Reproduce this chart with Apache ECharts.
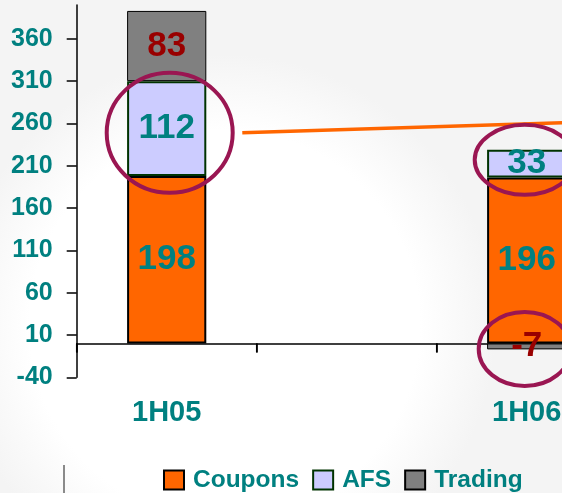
<!DOCTYPE html>
<html><head><meta charset="utf-8">
<script src="https://cdn.jsdelivr.net/npm/echarts@6/dist/echarts.min.js"></script>
<style>html,body{margin:0;padding:0;background:#f4f4f4;overflow:hidden}#c{width:562px;height:493px}</style>
</head><body><div id="c"></div>
<script>
// ---- data ----
const categories = ['1H05', '', '1H06'];
const seriesNames = ['Coupons', 'AFS', 'Trading'];
const coupons = [198, null, 196];
const afs = [112, null, 33];
const trading = [83, null, -7];
const yTicks = [-40, 10, 60, 110, 160, 210, 260, 310, 360];
const yMin = -40, yMax = 400;
// annotation ellipses: [category index, value]
const circleCenters = [[0, 249], [2, 217], [2, -6.5]];
// annotation line ends: [category position, value]
const arrowEnds = [[0.42, 249], [2.2, 261]];

const F = "'Liberation Sans', Arial, Helvetica, sans-serif";
const TEAL = '#008080';
const chart = echarts.init(document.getElementById('c'), null, {renderer: 'canvas'});

function barSeries(name, data, color, border, bw, labelColor) {
  return {
    name, type: 'bar', stack: 'total', data, barWidth: '44%',
    itemStyle: {color, borderColor: border, borderWidth: bw},
    label: {show: true, position: 'inside', color: labelColor, fontSize: 35, fontWeight: 'bold', fontFamily: F},
    emphasis: {disabled: true}
  };
}

chart.setOption({
  backgroundColor: 'transparent',
  animation: false,
  grid: {left: 76.7, top: 5, width: 540, height: 372.3, outerBoundsMode: 'none', containLabel: false},
  legend: {
    left: 158, top: 462.5, itemWidth: 20, itemHeight: 19, itemGap: 13, icon: 'rect',
    selectedMode: false,
    textStyle: {color: TEAL, fontSize: 24.5, fontWeight: 'bold', fontFamily: F, padding: [0, 0, 0, 4]}
  },
  xAxis: {
    type: 'category', data: categories,
    axisLine: {onZero: true, lineStyle: {color: '#000', width: 1.5}},
    axisTick: {show: true, length: 9, lineStyle: {color: '#000', width: 1.5}},
    axisLabel: {color: TEAL, fontSize: 29, fontWeight: 'bold', margin: 21, fontFamily: F, interval: 0}
  },
  yAxis: {
    type: 'value', min: yMin, max: yMax,
    splitLine: {show: false},
    axisLine: {show: true, lineStyle: {color: '#000', width: 1.5}},
    axisTick: {show: true, length: 10, customValues: yTicks, lineStyle: {color: '#000', width: 1.5}},
    axisLabel: {customValues: yTicks, color: TEAL, fontSize: 25, fontWeight: 'bold', margin: 24, fontFamily: F}
  },
  series: [
    barSeries(seriesNames[0], coupons, '#FF6600', '#000000', 2, TEAL),
    barSeries(seriesNames[1], afs, '#CCCCFF', '#003300', 2, TEAL),
    barSeries(seriesNames[2], trading, '#808080', '#000000', 1, '#990000')
  ]
});

function px(pos, val) {
  const a = chart.convertToPixel({gridIndex: 0}, [0, val]);
  const b = chart.convertToPixel({gridIndex: 0}, [1, val]);
  return [a[0] + pos * (b[0] - a[0]), a[1]];
}
const radii = [[63, 60], [50, 35], [46, 37]];
const graphics = [
  {type: 'rect', z: -100, silent: true, shape: {x: 0, y: 0, width: 562, height: 493},
   style: {fill: new echarts.graphic.RadialGradient(0.4, 0.66, 0.55, [
     {offset: 0, color: '#ffffff'}, {offset: 0.72, color: '#ffffff'}, {offset: 1, color: '#f4f4f4'}])}},
  {type: 'line', silent: true, shape: {x1: 64, y1: 465, x2: 64, y2: 493}, style: {stroke: '#8a8a8a', lineWidth: 2}}
];
// category boundary ticks on the zero line
[-0.5, 0.5, 1.5, 2.5].forEach(pos => {
  const p = px(pos, 0);
  graphics.push({type: 'line', z: 40, silent: true, shape: {x1: p[0], y1: p[1], x2: p[0], y2: p[1] + 9},
    style: {stroke: '#000', lineWidth: 1.5}});
});
const a0 = px(arrowEnds[0][0], arrowEnds[0][1]);
const a1 = px(arrowEnds[1][0], arrowEnds[1][1]);
graphics.push({type: 'line', z: 50, silent: true, shape: {x1: a0[0], y1: a0[1], x2: a1[0], y2: a1[1]},
  style: {stroke: '#FF6600', lineWidth: 3.5}});
circleCenters.forEach((c, i) => {
  const p = px(c[0], c[1]);
  graphics.push({type: 'ellipse', z: 60, silent: true,
    shape: {cx: p[0] + (i === 0 ? 3 : -2), cy: p[1], rx: radii[i][0], ry: radii[i][1]},
    style: {fill: 'none', stroke: '#9A1652', lineWidth: 4}});
});
chart.setOption({graphic: graphics});
</script>
</body></html>
